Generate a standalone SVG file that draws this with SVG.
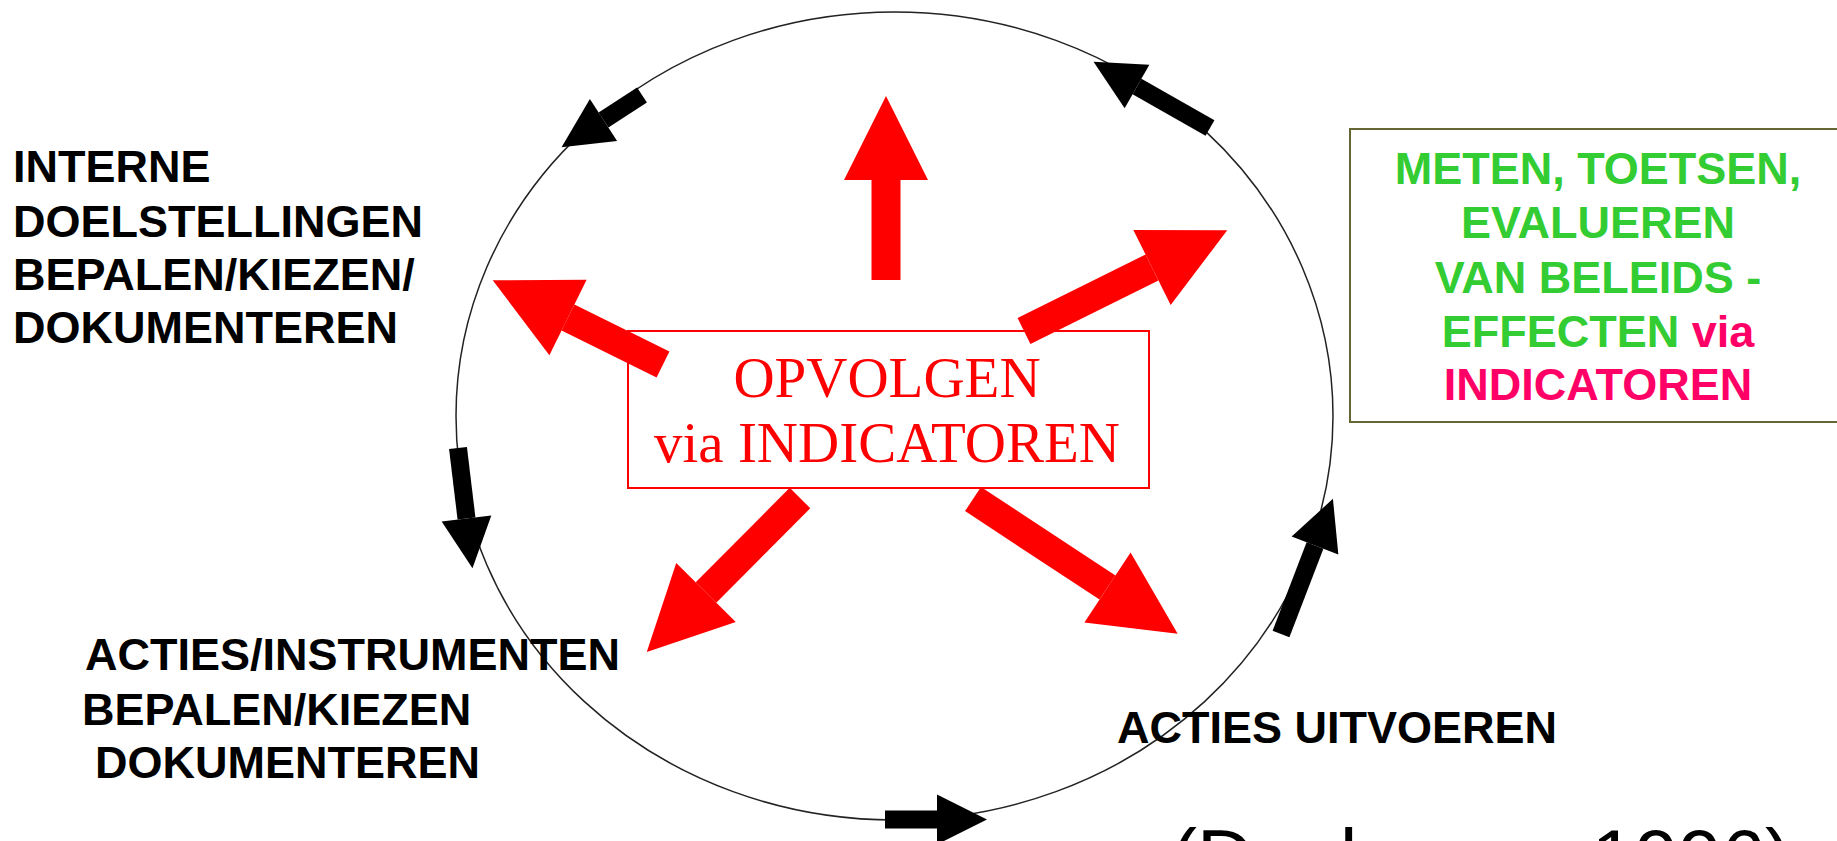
<svg xmlns="http://www.w3.org/2000/svg" width="1837" height="841" viewBox="0 0 1837 841">
  <style>
    .lbl { font-family: "Liberation Sans", Arial, sans-serif; font-weight: bold; font-size: 45px; fill: #000; }
    .grn { font-family: "Liberation Sans", Arial, sans-serif; font-weight: bold; font-size: 45px; fill: #33CC33; text-anchor: middle; }
    .pnk { fill: #FF0066; }
    .ser { font-family: "Liberation Serif", "Times New Roman", serif; font-size: 57px; fill: #FF0000; text-anchor: middle; }
    .cite { font-family: "Liberation Sans", Arial, sans-serif; font-size: 78px; fill: #000; }
    .red { stroke: #FF0000; stroke-width: 29; fill: none; marker-end: url(#redHead); }
    .blk { stroke: #000; stroke-width: 18; fill: none; marker-end: url(#blkHead); }
  </style>
  <defs>
    <marker id="redHead" markerUnits="userSpaceOnUse" orient="auto" refX="0" refY="0" markerWidth="90" markerHeight="90" viewBox="0 -45 90 90" overflow="visible">
      <path d="M0,-42 L84,0 L0,42 Z" fill="#FF0000"/>
    </marker>
    <marker id="blkHead" markerUnits="userSpaceOnUse" orient="auto" refX="0" refY="0" markerWidth="60" markerHeight="60" viewBox="0 -30 60 60" overflow="visible">
      <path d="M0,-25 L50,0 L0,25 Z" fill="#000"/>
    </marker>
  </defs>
  <rect width="1837" height="841" fill="#FFFFFF"/>

  <g id="cycle">
    <ellipse cx="894.5" cy="416" rx="438.5" ry="404" fill="none" stroke="#222" stroke-width="1.5"/>
  </g>

  <g id="connectors">
    <line class="red" x1="886" y1="280" x2="886" y2="180"/>
    <line class="red" x1="663" y1="364.5" x2="568" y2="317.5"/>
    <line class="red" x1="1024" y1="331" x2="1152" y2="267.5"/>
    <line class="red" x1="800" y1="498" x2="706" y2="592.5"/>
    <line class="red" x1="973" y1="499" x2="1107.5" y2="587.5"/>
    <line class="blk" x1="642" y1="95" x2="603.5" y2="120"/>
    <line class="blk" x1="1210" y1="128" x2="1137" y2="86.5"/>
    <line class="blk" x1="458" y1="448" x2="466.5" y2="518.5"/>
    <line class="blk" x1="885" y1="819.5" x2="937" y2="819.5"/>
    <line class="blk" x1="1281" y1="634" x2="1315" y2="545.5"/>
  </g>

  <g id="center">
    <rect x="628" y="331" width="521" height="157" fill="none" stroke="#FF0000" stroke-width="2"/>
    <text class="ser" x="887" y="397">OPVOLGEN</text>
    <text class="ser" x="887" y="462">via INDICATOREN</text>
  </g>

  <g id="doelstellingen">
    <text class="lbl" x="13" y="182">INTERNE</text>
    <text class="lbl" x="13" y="237">DOELSTELLINGEN</text>
    <text class="lbl" x="13" y="290">BEPALEN/KIEZEN/</text>
    <text class="lbl" x="13" y="343">DOKUMENTEREN</text>
  </g>

  <g id="acties-bepalen">
    <text class="lbl" x="85" y="670">ACTIES/INSTRUMENTEN</text>
    <text class="lbl" x="82" y="725">BEPALEN/KIEZEN</text>
    <text class="lbl" x="95" y="778">DOKUMENTEREN</text>
  </g>

  <g id="acties-uitvoeren">
    <text class="lbl" x="1117" y="743">ACTIES UITVOEREN</text>
  </g>

  <g id="meten">
    <rect x="1350" y="129" width="500" height="293" fill="none" stroke="#666633" stroke-width="2"/>
    <text class="grn" x="1598" y="184">METEN, TOETSEN,</text>
    <text class="grn" x="1598" y="238">EVALUEREN</text>
    <text class="grn" x="1598" y="293">VAN BELEIDS -</text>
    <text class="grn" x="1598" y="347">EFFECTEN <tspan class="pnk">via</tspan></text>
    <text class="grn pnk" x="1598" y="400">INDICATOREN</text>
  </g>

  <g id="citation">
    <text class="cite" x="1171" y="884">(Daelmans, 1996)</text>
  </g>
</svg>
